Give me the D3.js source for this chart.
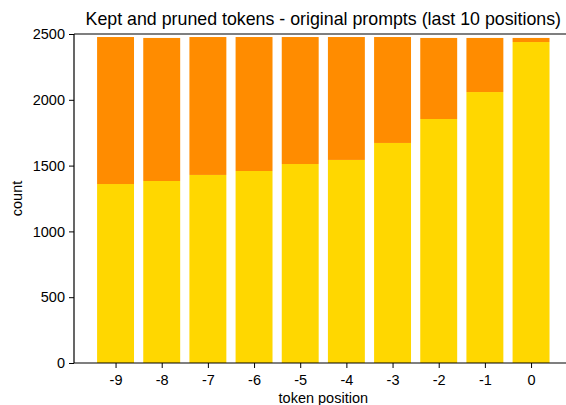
<!DOCTYPE html>
<html>
<head>
<meta charset="utf-8">
<script src="https://cdn.jsdelivr.net/npm/d3@7"></script>
<style>
  body { margin: 0; background: #fff; }
  svg { display: block; font-family: "Liberation Sans", Arial, sans-serif; }
</style>
</head>
<body>
<div class="chart"></div>
<script>
// data
var positions = [-9, -8, -7, -6, -5, -4, -3, -2, -1, 0];
var kept   = [1360, 1383, 1429, 1459, 1512, 1543, 1672, 1854, 2059, 2439];
var pruned = [1117, 1087, 1048, 1018, 965, 934, 805, 616, 411, 31];
var yTicks = [0, 500, 1000, 1500, 2000, 2500];

var svgWidth = 566;
var svgHeight = 405;

// axes box (right side runs past the window, as in the reference)
var plotLeft = 74, plotRight = 572.6, plotTop = 34, plotBottom = 363;

var svg = d3.select(".chart").append("svg")
  .attr("width", svgWidth)
  .attr("height", svgHeight);

var x = d3.scaleLinear().domain([-9.9, 0.9]).range([plotLeft, plotRight]);
var y = d3.scaleLinear().domain([0, 2500]).range([plotBottom, plotTop]);
var barW = x(0.8) - x(0);

var rows = positions.map(function(p, i) {
  return { pos: p, kept: kept[i], pruned: pruned[i] };
});

// kept (bottom)
svg.append("g").selectAll("rect.kept")
  .data(rows).enter().append("rect")
  .attr("x", function(d) { return x(d.pos - 0.4); })
  .attr("width", barW)
  .attr("y", function(d) { return y(d.kept); })
  .attr("height", function(d) { return y(0) - y(d.kept); })
  .attr("fill", "#FFD700");

// pruned (stacked on top)
svg.append("g").selectAll("rect.pruned")
  .data(rows).enter().append("rect")
  .attr("x", function(d) { return x(d.pos - 0.4); })
  .attr("width", barW)
  .attr("y", function(d) { return y(d.kept + d.pruned); })
  .attr("height", function(d) { return y(d.kept) - y(d.kept + d.pruned); })
  .attr("fill", "#FF8C00");

// axes
var xAxis = svg.append("g")
  .attr("transform", "translate(0," + plotBottom + ")")
  .call(d3.axisBottom(x).tickValues(positions).tickSize(5).tickPadding(4)
    .tickFormat(function(d) { return String(d); }));
var yAxis = svg.append("g")
  .attr("transform", "translate(" + plotLeft + ",0)")
  .call(d3.axisLeft(y).tickValues(yTicks).tickSize(5).tickPadding(4)
    .tickFormat(function(d) { return String(d); }));

[xAxis, yAxis].forEach(function(a) {
  a.select(".domain").remove();
  a.selectAll("text").attr("font-size", 14.5).attr("fill", "#000")
    .style("font-family", "'Liberation Sans', Arial, sans-serif");
  a.selectAll("line").attr("stroke", "#000").attr("stroke-width", 1);
});
xAxis.selectAll("text").attr("dy", "0.9em");

// spines: left, bottom, top
svg.append("line").attr("x1", plotLeft).attr("x2", plotLeft).attr("y1", plotTop).attr("y2", plotBottom)
  .attr("stroke", "#000").attr("stroke-width", 1.2);
svg.append("line").attr("x1", plotLeft).attr("x2", plotRight).attr("y1", plotBottom).attr("y2", plotBottom)
  .attr("stroke", "#000").attr("stroke-width", 1.2);
svg.append("line").attr("x1", plotLeft).attr("x2", plotRight).attr("y1", plotTop).attr("y2", plotTop)
  .attr("stroke", "#000").attr("stroke-width", 1.2);

// labels
svg.append("text")
  .attr("x", (plotLeft + plotRight) / 2).attr("y", 25)
  .attr("text-anchor", "middle").attr("font-size", 17.8)
  .text("Kept and pruned tokens - original prompts (last 10 positions)");

svg.append("text")
  .attr("x", (plotLeft + plotRight) / 2).attr("y", 403)
  .attr("text-anchor", "middle").attr("font-size", 14.5)
  .text("token position");

svg.append("text")
  .attr("transform", "translate(22," + (plotTop + plotBottom) / 2 + ") rotate(-90)")
  .attr("text-anchor", "middle").attr("font-size", 14.5)
  .text("count");
</script>
</body>
</html>
